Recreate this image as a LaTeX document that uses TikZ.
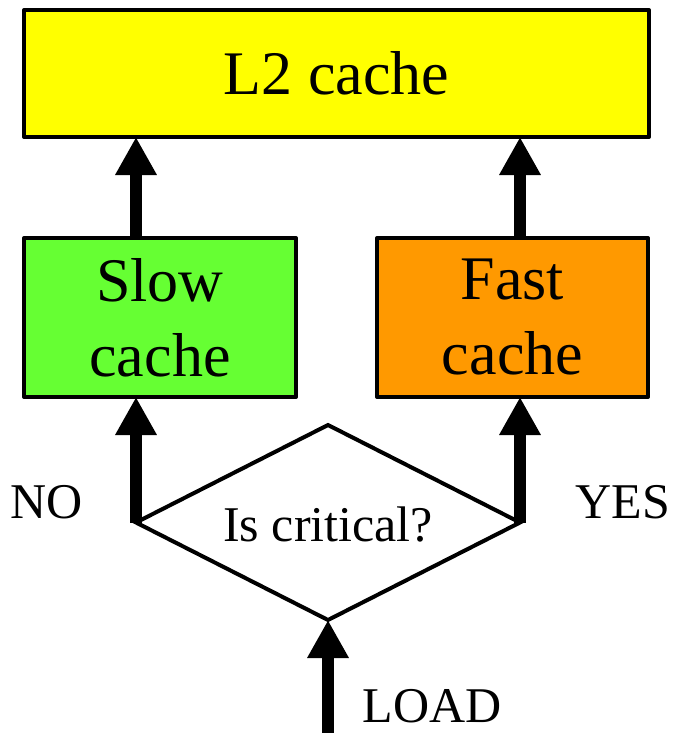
\documentclass[tikz,border=0pt]{standalone}
\usepackage{fontspec}
\setmainfont{Liberation Serif}
\usetikzlibrary{arrows.meta,shapes.geometric}
\definecolor{cyel}{HTML}{FFFF00}
\definecolor{cgreen}{HTML}{66FF33}
\definecolor{corange}{HTML}{FF9900}
\tikzset{
  cachebox/.style={draw=black, line width=4pt, line join=round, inner sep=0pt, outer sep=0pt, font=\fontsize{62}{75}\selectfont, align=center},
  bigarrow/.style={line width=12pt, -{Triangle[width=39pt,length=38pt]}},
  lbl/.style={font=\fontsize{50}{60}\selectfont, inner sep=0pt, anchor=base}
}
\begin{document}
\begin{tikzpicture}[x=1pt,y=-1pt]
\useasboundingbox (0,0) rectangle (674,733);
\node[cachebox, fill=cyel, minimum width=625pt, minimum height=127pt] (l2) at (336.5,73.5) {L2 cache};
\node[cachebox, fill=cgreen, minimum width=272pt, minimum height=159pt] (slow) at (160,317.5) {Slow\\cache};
\node[cachebox, fill=corange, minimum width=271pt, minimum height=159pt] (fast) at (512.5,317.5) {Fast\\cache};
\node[diamond, draw=black, line width=4pt, line join=miter, inner sep=0pt, outer sep=0pt, minimum width=384pt, minimum height=195pt, aspect=2] (dec) at (328,522.5) {};
\node[font=\fontsize{50}{60}\selectfont, inner sep=0pt] (q) at (328,525) {Is critical?};
\coordinate (load) at (328,733);
\draw[bigarrow] (load) -- (dec.south);
\draw[bigarrow] (dec.west) -- (dec.west |- slow.south);
\draw[bigarrow] (dec.east) -- (dec.east |- fast.south);
\draw[bigarrow] (dec.west |- slow.north) -- (dec.west |- l2.south);
\draw[bigarrow] (dec.east |- fast.north) -- (dec.east |- l2.south);
\node[lbl] (no) at (47,518) {NO};
\node[lbl] (yes) at (623,518) {YES};
\node[lbl] (ld) at (432,722) {LOAD};
\end{tikzpicture}
\end{document}
